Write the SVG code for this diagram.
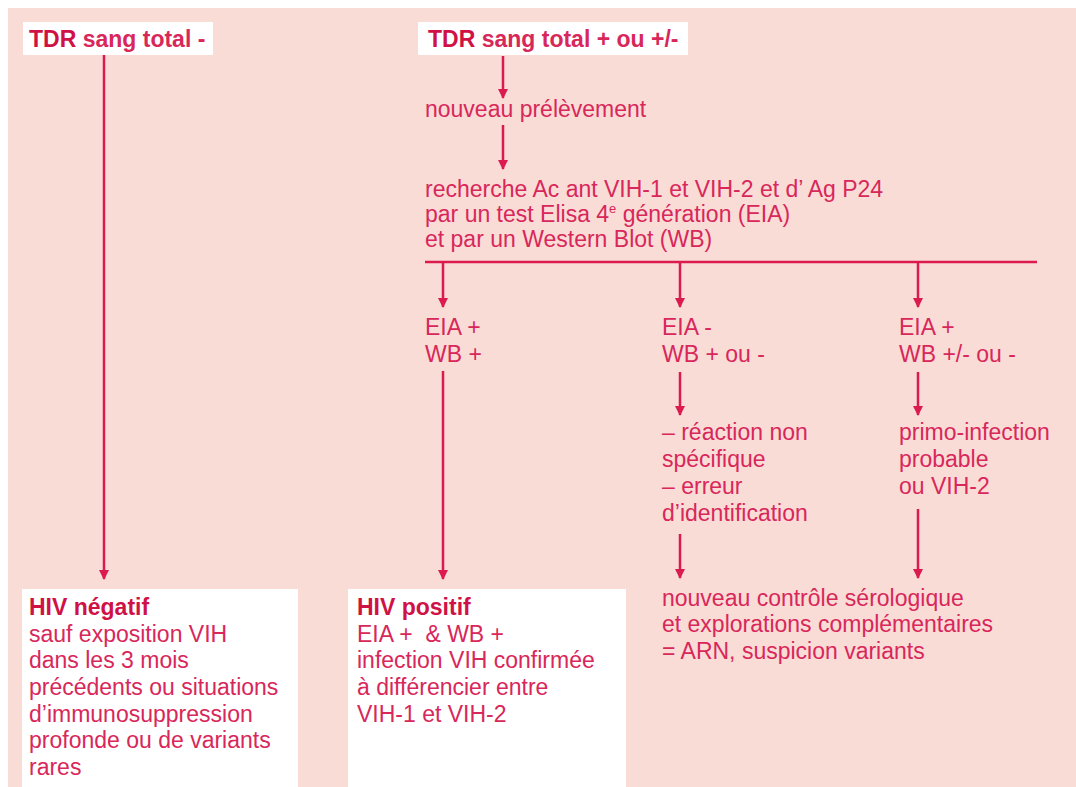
<svg xmlns="http://www.w3.org/2000/svg" width="1076" height="787" viewBox="0 0 1076 787">
<defs>
<style>
.t{font-family:"Liberation Sans",Arial,sans-serif;font-size:23px;fill:#d8275a}
.b{font-weight:bold}
.d{fill:#cf1146}
.ln{stroke:#db1a4d;stroke-width:2.5;fill:none}
.box{fill:#ffffff}
</style>
<marker id="ah" viewBox="0 0 10 10" refX="9" refY="5" markerWidth="4" markerHeight="4" orient="auto" markerUnits="strokeWidth">
<path d="M0,0 L10,5 L0,10 z" fill="#db1a4d"/>
</marker>
</defs>
<rect x="0" y="0" width="1076" height="787" fill="#ffffff"/>
<rect x="8" y="8" width="1068" height="779" fill="#fadcd7"/>

<g id="connectors">
<line class="ln" x1="104" y1="55" x2="104" y2="579" marker-end="url(#ah)"/>
<line class="ln" x1="503" y1="56" x2="503" y2="98" marker-end="url(#ah)"/>
<line class="ln" x1="503" y1="125" x2="503" y2="169" marker-end="url(#ah)"/>
<line class="ln" x1="425" y1="262" x2="1037" y2="262"/>
<line class="ln" x1="443" y1="262" x2="443" y2="307" marker-end="url(#ah)"/>
<line class="ln" x1="680" y1="262" x2="680" y2="307" marker-end="url(#ah)"/>
<line class="ln" x1="918" y1="262" x2="918" y2="307" marker-end="url(#ah)"/>
<line class="ln" x1="443" y1="371" x2="443" y2="579" marker-end="url(#ah)"/>
<line class="ln" x1="680" y1="372" x2="680" y2="415" marker-end="url(#ah)"/>
<line class="ln" x1="918" y1="372" x2="918" y2="415" marker-end="url(#ah)"/>
<line class="ln" x1="680" y1="534" x2="680" y2="578" marker-end="url(#ah)"/>
<line class="ln" x1="918" y1="509" x2="918" y2="578" marker-end="url(#ah)"/>
</g>

<g id="tdr-neg">
<rect class="box" x="23" y="22" width="190" height="33"/>
<text class="t b" x="29" y="47"><tspan class="d">TDR</tspan> sang total -</text>
</g>

<g id="tdr-pos">
<rect class="box" x="418" y="22" width="270" height="33"/>
<text class="t b" x="428" y="47"><tspan class="d">TDR</tspan> sang total + ou +/-</text>
</g>

<g id="nouveau-prelevement">
<text class="t" x="425" y="117">nouveau prélèvement</text>
</g>

<g id="recherche">
<text class="t" x="425" y="197">recherche Ac ant VIH-1 et VIH-2 et d’ Ag P24</text>
<text class="t" x="425" y="222">par un test Elisa 4<tspan font-size="13" dy="-9">e</tspan><tspan dy="9"> génération (EIA)</tspan></text>
<text class="t" x="425" y="247">et par un Western Blot (WB)</text>
</g>

<g id="eia-pos-wb-pos">
<text class="t" x="425" y="335">EIA +</text>
<text class="t" x="425" y="362">WB +</text>
</g>

<g id="eia-neg">
<text class="t" x="662" y="335">EIA -</text>
<text class="t" x="662" y="362">WB + ou -</text>
</g>

<g id="eia-pos-wb-ind">
<text class="t" x="899" y="335">EIA +</text>
<text class="t" x="899" y="362">WB +/- ou -</text>
</g>

<g id="reaction">
<text class="t" x="662" y="440">– réaction non</text>
<text class="t" x="662" y="467">spécifique</text>
<text class="t" x="662" y="494">– erreur</text>
<text class="t" x="662" y="521">d’identification</text>
</g>

<g id="primo">
<text class="t" x="899" y="440">primo-infection</text>
<text class="t" x="899" y="467">probable</text>
<text class="t" x="899" y="494">ou VIH-2</text>
</g>

<g id="hiv-negatif">
<rect class="box" x="22" y="589" width="276" height="198"/>
<text class="t b d" x="29" y="615">HIV négatif</text>
<text class="t" x="29" y="642">sauf exposition VIH</text>
<text class="t" x="29" y="668">dans les 3 mois</text>
<text class="t" x="29" y="695">précédents ou situations</text>
<text class="t" x="29" y="722">d’immunosuppression</text>
<text class="t" x="29" y="748">profonde ou de variants</text>
<text class="t" x="29" y="775">rares</text>
</g>

<g id="hiv-positif">
<rect class="box" x="348" y="589" width="278" height="198"/>
<text class="t b d" x="357" y="615">HIV positif</text>
<text class="t" x="357" y="642" xml:space="preserve">EIA +  &amp; WB +</text>
<text class="t" x="357" y="668">infection VIH confirmée</text>
<text class="t" x="357" y="695">à différencier entre</text>
<text class="t" x="357" y="722">VIH-1 et VIH-2</text>
</g>

<g id="controle">
<text class="t" x="662" y="606">nouveau contrôle sérologique</text>
<text class="t" x="662" y="632">et explorations complémentaires</text>
<text class="t" x="662" y="659">= ARN, suspicion variants</text>
</g>
</svg>
